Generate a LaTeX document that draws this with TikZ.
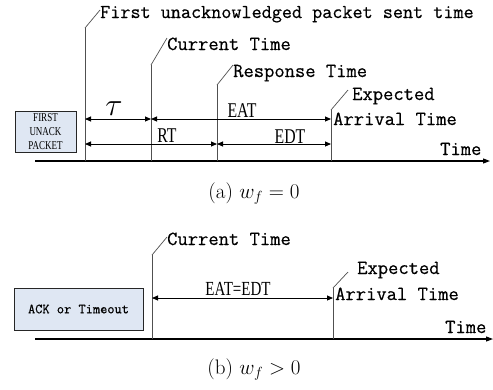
\RequirePackage{fix-cm}
\documentclass[tikz,border=0pt]{standalone}
\usepackage{fontspec}
\usetikzlibrary{arrows.meta}
\newfontfamily\narrowserif[FakeStretch=0.75]{Liberation Serif}
\newfontfamily\monolm[FakeBold=0.5]{Latin Modern Mono}
\definecolor{boxfill}{HTML}{DFE7F3}
\definecolor{linegray}{HTML}{505050}
\tikzset{
  vline/.style={draw=linegray, line width=1pt},
  leader/.style={draw=linegray, line width=0.7pt},
  axis/.style={draw=black, line width=1.1pt, -{Triangle[length=7pt,width=5pt]}},
  dim/.style={draw=black, line width=0.9pt, {Triangle[length=6pt,width=5pt]}-{Triangle[length=6pt,width=5pt]}},
  monolbl/.style={anchor=base west, inner sep=0pt, font=\monolm\fontsize{20}{20}\selectfont},
  narrowlbl/.style={anchor=base, inner sep=0pt, font=\narrowserif\fontsize{21}{21}\selectfont},
  packetbox/.style={draw=black!85, line width=0.9pt, fill=boxfill},
  caplbl/.style={anchor=base, inner sep=0pt, font=\fontsize{21}{23}\selectfont}
}
\begin{document}
\begin{tikzpicture}[x=1pt,y=-1pt]
\useasboundingbox (0,0) rectangle (493,389);
% ---------------- (a) ----------------
\coordinate (aS) at (35,161);
\coordinate (aE) at (490,161);
\coordinate (A0) at (85,161);  \coordinate (A1) at (85,28);  \coordinate (A2) at (100,10);
\coordinate (B0) at (151,161); \coordinate (B1) at (151,65); \coordinate (B2) at (167,38);
\coordinate (C0) at (217,161); \coordinate (C1) at (217,85); \coordinate (C2) at (233,65);
\coordinate (D0) at (331,161); \coordinate (D1) at (331,110); \coordinate (D2) at (348,90);
\coordinate (rA1) at (85,119); \coordinate (rB1) at (151,119); \coordinate (rD1) at (331,119);
\coordinate (rA2) at (85,144); \coordinate (rC2) at (217,144); \coordinate (rD2) at (331,144);

\path[packetbox] (15,111) rectangle (76,152);
\node[align=center, inner sep=0pt, font=\narrowserif\fontsize{12}{14}\selectfont] (pkt) at (45.5,132) {FIRST\\UNACK\\PACKET};

\draw[axis] (aS) -- (aE);
\draw[vline] (A0) -- (A1); \draw[leader] (A1) -- (A2);
\draw[vline] (B0) -- (B1); \draw[leader] (B1) -- (B2);
\draw[vline] (C0) -- (C1); \draw[leader] (C1) -- (C2);
\draw[vline] (D0) -- (D1); \draw[leader] (D1) -- (D2);

\draw[dim] (rA1) -- (rB1);
\draw[dim] (rB1) -- (rD1);
\draw[dim] (rA2) -- (rC2);
\draw[dim] (rC2) -- (rD2);

\node[monolbl, font=\monolm\fontsize{19.6}{20}\selectfont] (tFirst) at (100,18) {First unacknowledged packet sent time};
\node[monolbl] (tCur) at (167,50) {Current Time};
\node[monolbl] (tResp) at (233,77) {Response Time};
\node[monolbl] (tExp) at (352,100) {Expected};
\node[monolbl] (tArr) at (333,125) {Arrival Time};
\node[monolbl] (tTime) at (440,155) {Time};

\node[inner sep=0pt, font=\fontsize{32}{32}\selectfont] (tau) at (114,109) {$\tau$};
\node[narrowlbl] (lEAT) at (242,117) {EAT};
\node[narrowlbl] (lRT) at (167,142) {RT};
\node[narrowlbl] (lEDT) at (290,143) {EDT};

\node[caplbl] (capA) at (254,198) {(a) $w_f = 0$};

% ---------------- (b) ----------------
\coordinate (bS) at (35,339);
\coordinate (bE) at (493,339);
\coordinate (P0) at (152,339); \coordinate (P1) at (152,255); \coordinate (P2) at (167,237);
\coordinate (Q0) at (333,339); \coordinate (Q1) at (333,288); \coordinate (Q2) at (348,272);
\coordinate (rP) at (152,298); \coordinate (rQ) at (333,298);

\path[packetbox] (14,288) rectangle (143,330);
\node[inner sep=0pt, font=\monolm\fontsize{14}{14}\selectfont] (ack) at (78.5,309) {ACK or Timeout};

\draw[axis] (bS) -- (bE);
\draw[vline] (P0) -- (P1); \draw[leader] (P1) -- (P2);
\draw[vline] (Q0) -- (Q1); \draw[leader] (Q1) -- (Q2);
\draw[dim] (rP) -- (rQ);

\node[monolbl] (tCur2) at (167,245) {Current Time};
\node[monolbl] (tExp2) at (357,274) {Expected};
\node[monolbl] (tArr2) at (335,300) {Arrival Time};
\node[monolbl] (tTime2) at (445,333) {Time};
\node[narrowlbl, font=\narrowserif\fontsize{20}{20}\selectfont] (lEE) at (238,295) {EAT=EDT};

\node[caplbl] (capB) at (254,374) {(b) $w_f > 0$};
\end{tikzpicture}
\end{document}
